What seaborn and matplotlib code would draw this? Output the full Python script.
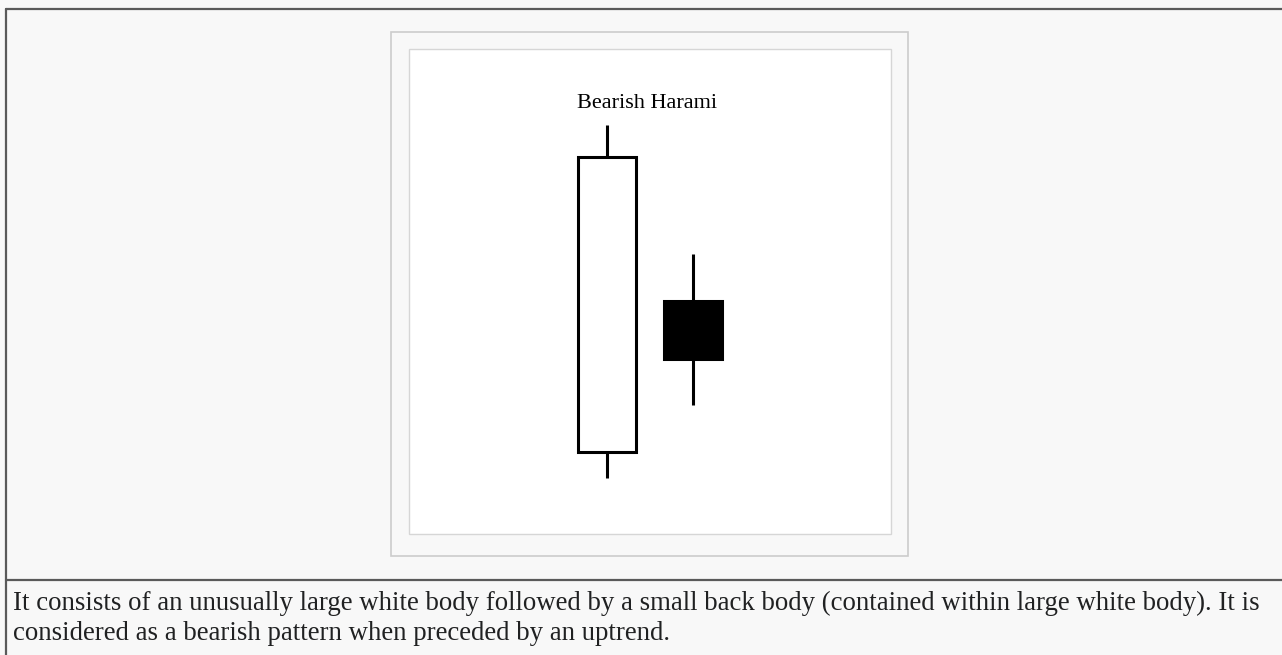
import matplotlib
matplotlib.use("Agg")
import matplotlib.pyplot as plt
from matplotlib.patches import Rectangle
from matplotlib.lines import Line2D
import seaborn as sns

# Two-session candlestick pattern (arbitrary price units)
sessions = [0, 1]
opens = [4.8, 19.9]
highs = [37.5, 24.6]
lows = [2.2, 9.5]
closes = [34.3, 14.1]
title_text = "Bearish Harami"
caption_lines = [
    "It consists of an unusually large white body followed by a small back body (contained within large white body). It is",
    "considered as a bearish pattern when preceded by an uptrend.",
]

sns.set_style("white")
plt.rcParams["font.family"] = ["Liberation Serif", "DejaVu Serif"]

W, H = 1282, 655
fig = plt.figure(figsize=(W / 100, H / 100), dpi=100)
fig.patch.set_facecolor("#f8f8f8")


def px_rect(x0, y0, x1, y1, **kw):
    """Rectangle given in pixel coordinates measured from the top-left."""
    return Rectangle((x0 / W, 1 - y1 / H), (x1 - x0) / W, (y1 - y0) / H,
                     transform=fig.transFigure, **kw)


def px_line(xs, ys, **kw):
    return Line2D([x / W for x in xs], [1 - y / H for y in ys],
                  transform=fig.transFigure, **kw)


# table cell frame and caption separator
fig.add_artist(px_line([6, 6], [9, H], color="#5a5a5a", lw=1.6))
fig.add_artist(px_line([6, W], [9, 9], color="#5a5a5a", lw=1.6))
fig.add_artist(px_line([6, W], [580, 580], color="#5a5a5a", lw=1.6))

# thumbnail frame (kept underneath the chart axes)
fig.add_artist(px_rect(391, 32, 908, 556, facecolor="#f8f8f8",
                       edgecolor="#cccccc", lw=1.2, zorder=-3))
fig.add_artist(px_rect(409, 49, 891, 534, facecolor="white",
                       edgecolor="#d6d6d6", lw=1.0, zorder=-2))

# chart axes inside the white area
ax = fig.add_axes([410 / W, 1 - 533 / H, (890 - 410) / W, (533 - 50) / H])
ax.patch.set_alpha(0)
ax.set_xlim(-2.302 + 1 / 86, 3.302 - 1 / 86)
ax.set_ylim(-3.4 + 0.1, 45.1 - 0.1)
ax.set_axis_off()

body_w = 0.674
for x, o, h, l, c in zip(sessions, opens, highs, lows, closes):
    top, bot = max(o, c), min(o, c)
    ax.vlines(x, top, h, color="black", lw=2.2, zorder=1)
    ax.vlines(x, l, bot, color="black", lw=2.2, zorder=1)
    face = "white" if c >= o else "black"
    ax.bar(x, top - bot, bottom=bot, width=body_w, facecolor=face,
           edgecolor="black", linewidth=2.2, zorder=2)

ax.text((sessions[0] + sessions[1]) / 2 - 0.03, 39.7, title_text,
        ha="center", va="center", fontsize=16, color="black")

# caption below the thumbnail
for i, line in enumerate(caption_lines):
    fig.text(13 / W, 1 - (610 + 30 * i) / H, line, ha="left",
             va="baseline", fontsize=19.3, color="#202122")

fig.savefig("out.png", dpi=100, facecolor=fig.get_facecolor())
